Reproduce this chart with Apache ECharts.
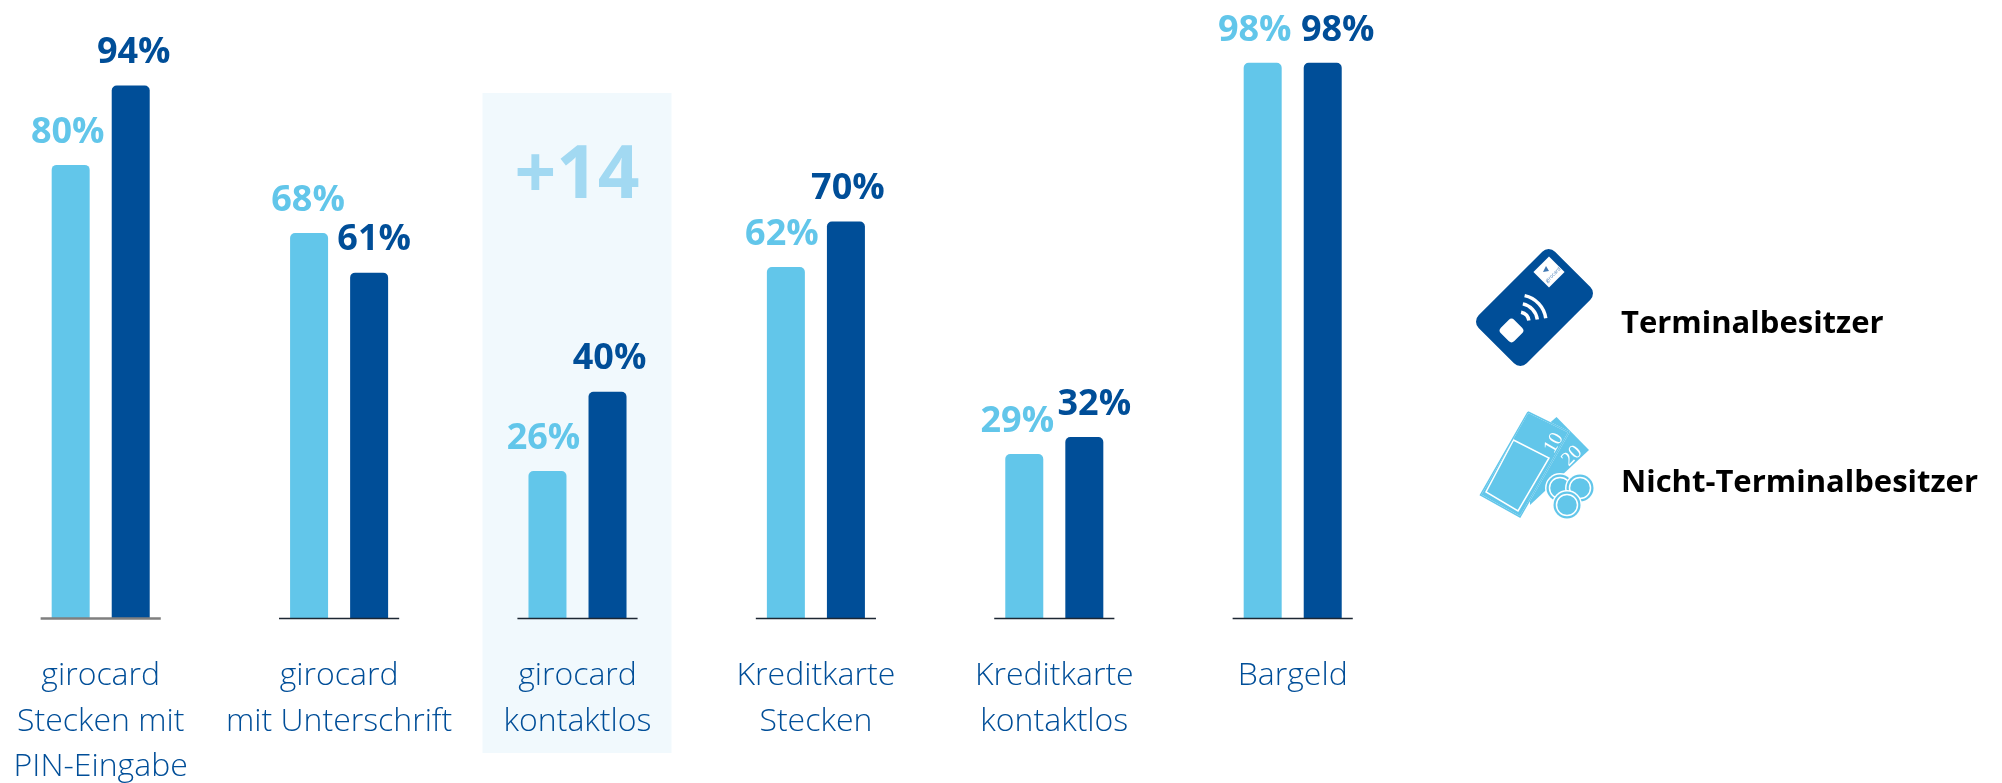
<!DOCTYPE html>
<html>
<head>
<meta charset="utf-8">
<title>Bezahlverfahren</title>
<script src="https://cdn.jsdelivr.net/npm/echarts@6/dist/echarts.min.js"></script>
<style>
  html, body { margin: 0; padding: 0; background: #fff; }
  #chart { width: 2002px; height: 783px; }
</style>
</head>
<body>
<div id="chart"></div>
<script>
var categories = [
  'girocard\nStecken mit\nPIN-Eingabe',
  'girocard\nmit Unterschrift',
  'girocard\nkontaktlos',
  'Kreditkarte\nStecken',
  'Kreditkarte\nkontaktlos',
  'Bargeld'
];
var nichtTerminal = [80, 68, 26, 62, 29, 98];
var terminal = [94, 61, 40, 70, 32, 98];
var seriesNames = ['Nicht-Terminalbesitzer', 'Terminalbesitzer'];

// labels sit a bit off the bar centre in the original
var lightNudge = [-3, -1, -4, -4, -7, -8];
var darkNudge = [3, 5, 2, 2, 10, 15];

var LIGHT = '#62c6ea';
var DARK = '#004e98';
var FONT = '"Open Sans", sans-serif';

function barData(values, nudge) {
  return values.map(function (v, i) {
    return { value: v, label: { offset: [nudge[i], 0] } };
  });
}

function arc(r) {
  return {
    type: 'arc',
    shape: { cx: 1519, cy: 322, r: r, startAngle: -78 * Math.PI / 180, endAngle: -8 * Math.PI / 180 },
    style: { stroke: '#fff', lineWidth: 3.5, fill: null },
    z: 12
  };
}

function coin(x, y, z) {
  return [
    { type: 'circle', shape: { cx: x, cy: y, r: 15 }, style: { fill: '#fff' }, z: z },
    { type: 'circle', shape: { cx: x, cy: y, r: 13.5 }, style: { fill: LIGHT }, z: z },
    { type: 'circle', shape: { cx: x, cy: y, r: 10.5 }, style: { fill: LIGHT, stroke: '#fff', lineWidth: 1.5 }, z: z }
  ];
}

var cardIcon = [
  { type: 'rect', x: 1534.5, y: 307.5, rotation: Math.PI / 4,
    shape: { x: -54, y: -34, width: 108, height: 68, r: 9 }, style: { fill: DARK }, z: 10 },
  { type: 'rect', x: 1511.5, y: 330.5, rotation: Math.PI / 4,
    shape: { x: -9.5, y: -9.5, width: 19, height: 19, r: 4 }, style: { fill: '#fff' }, z: 12 },
  { type: 'rect', x: 1549, y: 272, rotation: Math.PI / 4,
    shape: { x: -11, y: -11, width: 22, height: 22 }, style: { fill: '#fff' }, z: 12 },
  { type: 'polygon', shape: { points: [[1546, 266], [1543, 272], [1549, 271]] }, style: { fill: '#3f78b3' }, z: 13 },
  { type: 'text', x: 1553, y: 275, rotation: Math.PI / 4,
    style: { text: 'girocard', font: '5px ' + FONT, fill: '#3f78b3', align: 'center', verticalAlign: 'middle' }, z: 13 },
  arc(10), arc(18.5), arc(27)
];

var moneyIcon = [
  { type: 'polygon', shape: { points: [[1556.5, 417], [1589, 450], [1530, 505], [1530, 440]] }, style: { fill: LIGHT }, z: 10 },
  { type: 'polygon', shape: { points: [[1528, 412], [1569, 432], [1520, 517], [1480.5, 495]] },
    style: { fill: LIGHT, stroke: '#fff', lineWidth: 1.5 }, z: 11 },
  { type: 'polygon', shape: { points: [[1513.5, 440], [1549, 458], [1518, 511], [1486, 492]] },
    style: { fill: LIGHT, stroke: '#fff', lineWidth: 1.5 }, z: 11 },
  { type: 'polyline', shape: { points: [[1528, 412], [1569, 432], [1520, 517], [1480.5, 495], [1528, 412]] },
    style: { stroke: LIGHT, lineWidth: 1.5, fill: null }, z: 11 },
  { type: 'text', x: 1554, y: 443, rotation: Math.PI / 3,
    style: { text: '10', font: '20px "Liberation Serif", serif', fill: '#fff', align: 'center', verticalAlign: 'middle' }, z: 12 },
  { type: 'text', x: 1572, y: 456, rotation: Math.PI / 4,
    style: { text: '20', font: '20px "Liberation Serif", serif', fill: '#fff', align: 'center', verticalAlign: 'middle' }, z: 12 }
].concat(coin(1560, 488, 13), coin(1580, 488, 14), coin(1567, 505, 15));

var chart = echarts.init(document.getElementById('chart'), null, { renderer: 'canvas' });

var option = {
  backgroundColor: '#fff',
  animation: false,
  grid: { left: -18.5, top: 51.5, width: 1430.4, height: 567, containLabel: false, outerBoundsMode: 'none' },
  xAxis: {
    type: 'category',
    data: categories,
    axisLine: { show: false },
    axisTick: { show: false },
    axisLabel: {
      interval: 0,
      margin: 35,
      fontFamily: FONT,
      fontWeight: 300,
      fontSize: 32,
      lineHeight: 45.5,
      color: DARK,
      align: 'center',
      verticalAlign: 'top'
    }
  },
  yAxis: { type: 'value', min: 0, max: 100, show: false },
  graphic: [
    { type: 'rect', shape: { x: 482.5, y: 93, width: 189, height: 660 }, style: { fill: '#f1f9fd' }, z: 0 },
    { type: 'text', x: 577, y: 177,
      style: { text: '+14', font: 'bold 73px ' + FONT, fill: '#a2d9f2', align: 'center', verticalAlign: 'middle' }, z: 1 },
    { type: 'text', x: 1621, y: 324,
      style: { text: seriesNames[1], font: 'bold 31px ' + FONT, fill: '#000', verticalAlign: 'middle' }, z: 10 },
    { type: 'text', x: 1621, y: 483,
      style: { text: seriesNames[0], font: 'bold 31px ' + FONT, fill: '#000', verticalAlign: 'middle' }, z: 10 }
  ].concat(cardIcon, moneyIcon),
  series: [
    {
      name: seriesNames[0],
      type: 'bar',
      data: barData(nichtTerminal, lightNudge),
      barWidth: 38,
      barGap: '58%',
      itemStyle: { color: LIGHT, borderRadius: [5, 5, 0, 0] },
      label: { show: true, position: 'top', distance: 14.5, formatter: '{c}%', fontFamily: FONT, fontWeight: 'bold', fontSize: 36, color: LIGHT }
    },
    {
      name: seriesNames[1],
      type: 'bar',
      data: barData(terminal, darkNudge),
      barWidth: 38,
      itemStyle: { color: DARK, borderRadius: [5, 5, 0, 0] },
      label: { show: true, position: 'top', distance: 14.5, formatter: '{c}%', fontFamily: FONT, fontWeight: 'bold', fontSize: 36, color: DARK }
    },
    {
      // the baseline is cut per group, so no normal axis line here
      type: 'custom',
      data: categories.map(function (c, i) { return [i, 0]; }),
      z: 5,
      clip: false,
      silent: true,
      renderItem: function (params, api) {
        var p = api.coord([api.value(0), 0]);
        var half = api.size([1, 0])[0] * 0.252;
        var first = params.dataIndex === 0;
        return {
          type: 'line',
          shape: { x1: p[0] - half, y1: p[1], x2: p[0] + half, y2: p[1] },
          style: { stroke: first ? '#7f7f7f' : '#1d2733', lineWidth: first ? 2.5 : 1.5 }
        };
      }
    }
  ]
};
chart.setOption(option);
</script>
</body>
</html>
